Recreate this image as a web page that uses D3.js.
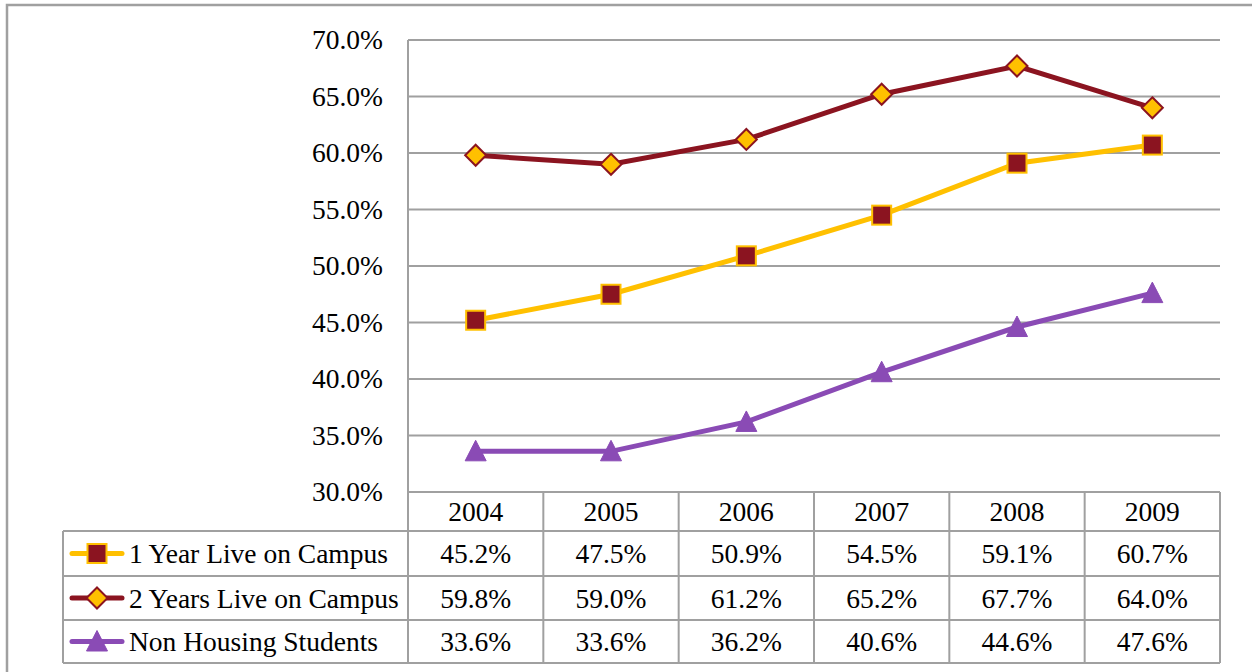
<!DOCTYPE html>
<html>
<head>
<meta charset="utf-8">
<script src="https://cdn.jsdelivr.net/npm/d3@7"></script>
<style>
  body { margin: 0; background: #fff; }
  svg { display: block; font-family: "Liberation Serif", serif; }
</style>
</head>
<body>
<div class="chart"></div>
<script>
// data
const years = ['2004', '2005', '2006', '2007', '2008', '2009'];
const seriesNames = ['1 Year Live on Campus', '2 Years Live on Campus', 'Non Housing Students'];
const oneYear = [45.2, 47.5, 50.9, 54.5, 59.1, 60.7];
const twoYears = [59.8, 59.0, 61.2, 65.2, 67.7, 64.0];
const nonHousing = [33.6, 33.6, 36.2, 40.6, 44.6, 47.6];
const yTicks = [30, 35, 40, 45, 50, 55, 60, 65, 70];

const W = 1252, H = 672;
const gold = '#FFC000', maroon = '#8B1420', purple = '#8A4BB5', grid = '#A0A0A0';

const plot = { left: 408, right: 1220, top: 40, bottom: 492 };
const tableLeft = 63;
const rowEdges = [492, 531, 576, 620, 663];
const fs = 27.5;

const series = [
  { name: seriesNames[0], values: oneYear, line: gold, marker: 'square', fill: maroon, stroke: gold },
  { name: seriesNames[1], values: twoYears, line: maroon, marker: 'diamond', fill: gold, stroke: maroon },
  { name: seriesNames[2], values: nonHousing, line: purple, marker: 'triangle', fill: purple, stroke: purple }
];

const svg = d3.select('.chart').append('svg').attr('width', W).attr('height', H);

// outer frame
svg.append('rect').attr('x', 7).attr('y', 5).attr('width', W + 20).attr('height', H + 20)
  .attr('fill', 'none').attr('stroke', grid).attr('stroke-width', 2.5);

const x = d3.scaleBand().domain(years).range([plot.left, plot.right]).padding(0);
const cx = d => x(d) + x.bandwidth() / 2;
const y = d3.scaleLinear().domain([30, 70]).range([plot.bottom, plot.top]);

// y axis labels + gridlines
const yAxis = d3.axisLeft(y).tickValues(yTicks).tickSize(0).tickPadding(25)
  .tickFormat(d => d.toFixed(1) + '%');
const gy = svg.append('g').attr('transform', `translate(${plot.left},0)`).call(yAxis);
gy.select('.domain').remove();
gy.selectAll('text').attr('font-size', fs).attr('fill', '#000').attr('font-family', '"Liberation Serif", serif');
svg.append('g').selectAll('line').data(yTicks).join('line')
  .attr('x1', plot.left).attr('x2', plot.right)
  .attr('y1', d => y(d)).attr('y2', d => y(d))
  .attr('stroke', grid).attr('stroke-width', 2);

// table
const tg = svg.append('g').attr('stroke', grid).attr('stroke-width', 2).attr('fill', 'none');
tg.append('line').attr('x1', plot.left).attr('x2', plot.left).attr('y1', plot.top).attr('y2', rowEdges[4]);
years.forEach(yr => {
  tg.append('line').attr('x1', x(yr) + x.bandwidth()).attr('x2', x(yr) + x.bandwidth())
    .attr('y1', rowEdges[0]).attr('y2', rowEdges[4]);
});
tg.append('line').attr('x1', tableLeft).attr('x2', tableLeft).attr('y1', rowEdges[1]).attr('y2', rowEdges[4]);
rowEdges.forEach((ry, i) => {
  tg.append('line').attr('x1', i === 0 ? plot.left : tableLeft).attr('x2', plot.right)
    .attr('y1', ry).attr('y2', ry);
});

const tt = svg.append('g').attr('font-size', fs).attr('fill', '#000');
years.forEach(yr => {
  tt.append('text').attr('x', cx(yr)).attr('y', (rowEdges[0] + rowEdges[1]) / 2)
    .attr('dy', '0.35em').attr('text-anchor', 'middle').text(yr);
});
series.forEach((s, i) => {
  const my = (rowEdges[i + 1] + rowEdges[i + 2]) / 2;
  s.values.forEach((v, j) => {
    tt.append('text').attr('x', cx(years[j])).attr('y', my)
      .attr('dy', '0.35em').attr('text-anchor', 'middle').text(v.toFixed(1) + '%');
  });
  tt.append('text').attr('x', 129).attr('y', my).attr('dy', '0.35em').text(s.name);
});

// markers
function marker(g, type, px, py, s) {
  if (type === 'square') {
    g.append('rect').attr('x', px - 9.5).attr('y', py - 9.5).attr('width', 19).attr('height', 19)
      .attr('fill', s.fill).attr('stroke', s.stroke).attr('stroke-width', 2);
  } else if (type === 'diamond') {
    g.append('path').attr('d', `M${px},${py - 10.5}L${px + 10.5},${py}L${px},${py + 10.5}L${px - 10.5},${py}Z`)
      .attr('fill', s.fill).attr('stroke', s.stroke).attr('stroke-width', 2);
  } else {
    g.append('path').attr('d', `M${px},${py - 11}L${px + 10.5},${py + 9.5}L${px - 10.5},${py + 9.5}Z`)
      .attr('fill', s.fill).attr('stroke', s.stroke).attr('stroke-width', 1);
  }
}

const line = d3.line().x((d, j) => cx(years[j])).y(d => y(d));
series.forEach(s => {
  svg.append('path').datum(s.values).attr('d', line)
    .attr('fill', 'none').attr('stroke', s.line).attr('stroke-width', 5);
});
series.forEach(s => {
  const g = svg.append('g');
  s.values.forEach((v, j) => marker(g, s.marker, cx(years[j]), y(v), s));
});

// legend keys in table
series.forEach((s, i) => {
  const my = (rowEdges[i + 1] + rowEdges[i + 2]) / 2;
  const g = svg.append('g');
  g.append('line').attr('x1', 72).attr('x2', 122).attr('y1', my).attr('y2', my)
    .attr('stroke', s.line).attr('stroke-width', 5).attr('stroke-linecap', 'round');
  marker(g, s.marker, 97, my, s);
});
</script>
</body>
</html>
